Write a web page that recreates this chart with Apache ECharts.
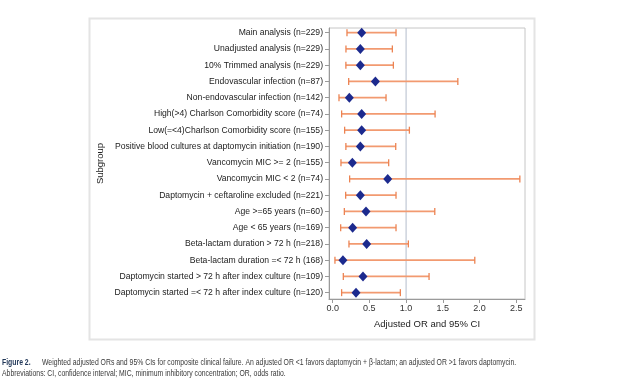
<!DOCTYPE html>
<html>
<head>
<meta charset="utf-8">
<script src="https://cdn.jsdelivr.net/npm/echarts@6/dist/echarts.min.js"></script>
<style>
html,body{margin:0;padding:0;background:#fff;}
#chart{width:624px;height:388px;}
</style>
</head>
<body>
<div id="chart"></div>
<script>
var categories = [
  "Main analysis (n=229)",
  "Unadjusted analysis (n=229)",
  "10% Trimmed analysis (n=229)",
  "Endovascular infection (n=87)",
  "Non-endovascular infection (n=142)",
  "High(>4) Charlson Comorbidity score (n=74)",
  "Low(=<4)Charlson Comorbidity score (n=155)",
  "Positive blood cultures at daptomycin initiation (n=190)",
  "Vancomycin MIC >= 2 (n=155)",
  "Vancomycin MIC < 2 (n=74)",
  "Daptomycin + ceftaroline excluded (n=221)",
  "Age >=65 years (n=60)",
  "Age < 65 years (n=169)",
  "Beta-lactam duration > 72 h (n=218)",
  "Beta-lactam duration =< 72 h (168)",
  "Daptomycin started > 72 h after index culture (n=109)",
  "Daptomycin started =< 72 h after index culture (n=120)"
];
var oddsRatio = [0.395, 0.377, 0.377, 0.582, 0.227, 0.395, 0.395, 0.377, 0.268, 0.75, 0.377, 0.454, 0.272, 0.463, 0.14, 0.413, 0.318];
var ciLower   = [0.195, 0.181, 0.18, 0.218, 0.086, 0.122, 0.163, 0.18, 0.113, 0.231, 0.177, 0.159, 0.109, 0.222, 0.031, 0.145, 0.122];
var ciUpper   = [0.863, 0.813, 0.827, 1.705, 0.727, 1.395, 1.045, 0.859, 0.763, 2.55, 0.863, 1.391, 0.863, 1.031, 1.936, 1.313, 0.922];
var xTicks = [0, 0.5, 1.0, 1.5, 2.0, 2.5];
var referenceOR = 1;
var xAxisTitle = "Adjusted OR and 95% CI";
var yAxisTitle = "Subgroup";
var captionBold = "Figure 2.";
var captionLine1 = "Weighted adjusted ORs and 95% CIs for composite clinical failure. An adjusted OR <1 favors daptomycin + \u03b2-lactam; an adjusted OR >1 favors daptomycin.";
var captionLine2 = "Abbreviations: CI, confidence interval; MIC, minimum inhibitory concentration; OR, odds ratio.";

var rowIdx = categories.map(function(_, i){ return i; });
var barData = categories.map(function(_, i){ return [ciLower[i], ciUpper[i], i]; });
var pointData = categories.map(function(_, i){ return [oddsRatio[i], i]; });

var chart = echarts.init(document.getElementById('chart'), null, {renderer:'canvas'});
var font = 'Liberation Sans, Arial, sans-serif';
chart.setOption({
  animation: false,
  backgroundColor: '#ffffff',
  graphic: [{
    type: 'rect', left: 87, top: 16, z: -1,
    shape: {width: 445, height: 321},
    style: {fill: null, stroke: '#e4e4e4', lineWidth: 2}
  }, {
    type: 'text', x: 2, y: 357, scaleX: 0.722,
    style: {
      text: '{b|' + captionBold + '}      ' + captionLine1 + '\n' + captionLine2,
      font: '9.5px Liberation Sans', fill: '#3a3a3a', lineHeight: 11,
      rich: { b: {fontFamily: 'Liberation Sans', fontSize: 9.5, fontWeight: 'bold', fill: '#1f3556', lineHeight: 11} }
    }
  }],
  grid: {left: 329, top: 28, right: 99, bottom: 89, show: true, borderColor: '#c6c6c6', borderWidth: 1, containLabel: false},
  xAxis: {
    type: 'value', min: -0.05, max: 2.62,
    name: xAxisTitle, nameLocation: 'middle', nameGap: 20,
    nameTextStyle: {fontFamily: font, fontSize: 9.5, color: '#222'},
    axisLine: {show: true, onZero: false, lineStyle: {color: '#9a9a9a'}},
    axisTick: {show: true, customValues: xTicks, length: 4, lineStyle: {color: '#9a9a9a'}},
    axisLabel: {customValues: xTicks, formatter: function(v){ return v.toFixed(1); }, fontFamily: font, fontSize: 9, color: '#333', margin: 5},
    splitLine: {show: false}
  },
  yAxis: {
    type: 'value', inverse: true, min: -0.29, max: 16.39,
    name: yAxisTitle, nameLocation: 'middle', nameGap: 224, nameRotate: 90,
    nameTextStyle: {fontFamily: font, fontSize: 9.5, color: '#222'},
    axisLine: {show: true, onZero: false, lineStyle: {color: '#9a9a9a'}},
    axisTick: {show: true, customValues: rowIdx, length: 4, lineStyle: {color: '#9a9a9a'}},
    axisLabel: {customValues: rowIdx, formatter: function(v){ return categories[Math.round(v)] || ''; }, fontFamily: font, fontSize: 8.6, color: '#222', margin: 6},
    splitLine: {show: false}
  },
  series: [{
    type: 'custom',
    data: barData,
    encode: {x: [0, 1], y: 2},
    renderItem: function(params, api){
      var y = api.value(2);
      var p1 = api.coord([api.value(0), y]);
      var p2 = api.coord([api.value(1), y]);
      var h = 3.5;
      var st = {stroke: '#ec8352', lineWidth: 1.3};
      return {type: 'group', children: [
        {type: 'line', shape: {x1: p1[0], y1: p1[1], x2: p2[0], y2: p2[1]}, style: {stroke: '#f29a70', lineWidth: 1.7}},
        {type: 'line', shape: {x1: p1[0], y1: p1[1]-h, x2: p1[0], y2: p1[1]+h}, style: st},
        {type: 'line', shape: {x1: p2[0], y1: p2[1]-h, x2: p2[0], y2: p2[1]+h}, style: st}
      ]};
    },
    z: 2
  }, {
    type: 'scatter',
    data: pointData,
    symbol: 'diamond',
    symbolSize: [9, 10],
    itemStyle: {color: '#1c2a8e', opacity: 1},
    z: 3
  }, {
    type: 'line',
    data: [[referenceOR, -0.29], [referenceOR, 16.39]],
    symbol: 'none', silent: true,
    lineStyle: {color: '#b4bccb', width: 1},
    z: 1
  }]
});
</script>
</body>
</html>
